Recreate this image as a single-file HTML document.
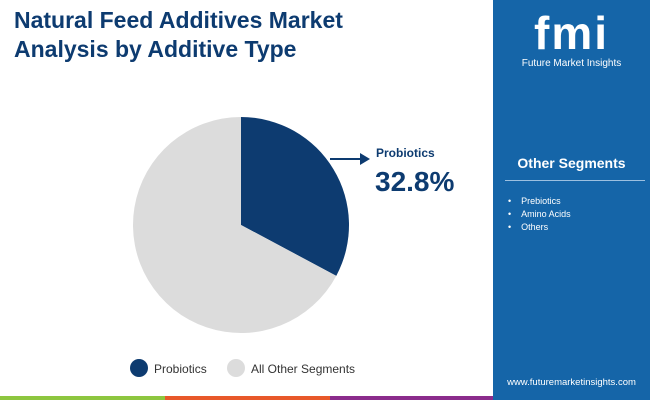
<!DOCTYPE html>
<html><head><meta charset="utf-8"><style>
body{margin:0;width:650px;height:400px;overflow:hidden;background:#fff;font-family:"Liberation Sans",sans-serif;position:relative}
.abs{position:absolute}
</style></head><body>
<div class="abs" style="left:14px;top:6px;font-size:23px;font-weight:bold;color:#0d3b70;line-height:29px">Natural Feed Additives Market<br>Analysis by Additive Type</div>
<div class="abs" style="left:493px;top:0;width:157px;height:400px;background:#1565a8">
  <div class="abs" style="left:0;top:8px;width:157px;text-align:center;color:#fff;font-size:46px;font-weight:bold;letter-spacing:2px;line-height:50px">fmi</div>
  <div class="abs" style="left:0;top:58px;width:157px;text-align:center;color:#fff;font-size:10px">Future Market Insights</div>
  <div class="abs" style="left:0;top:155px;width:157px;text-align:center;color:#fff;font-size:14px;font-weight:bold">Other Segments</div>
  <div class="abs" style="left:12px;top:180px;width:140px;height:1px;background:#9cc0e0"></div>
  <div class="abs" style="left:15px;top:195px;color:#fff;font-size:9px;line-height:13px">•&nbsp;&nbsp;&nbsp;&nbsp;Prebiotics<br>•&nbsp;&nbsp;&nbsp;&nbsp;Amino Acids<br>•&nbsp;&nbsp;&nbsp;&nbsp;Others</div>
  <div class="abs" style="left:0;top:377px;width:157px;text-align:center;color:#fff;font-size:9.5px">www.futuremarketinsights.com</div>
</div>
<div class="abs" style="left:0;top:396px;width:165px;height:4px;background:#8dc63f"></div>
<div class="abs" style="left:165px;top:396px;width:165px;height:4px;background:#e8582a"></div>
<div class="abs" style="left:330px;top:396px;width:163px;height:4px;background:#8b2c8c"></div>
<svg class="abs" style="left:0;top:0" width="493" height="400">
<g id="pie"></g>
<line x1="330" y1="159" x2="362" y2="159" stroke="#0d3b70" stroke-width="2"/>
<polygon points="370,159 360,153 360,165" fill="#0d3b70"/>
<text x="376" y="157" font-size="12" font-weight="bold" fill="#0d3b70">Probiotics</text>
<text x="375" y="191" font-size="28" font-weight="bold" fill="#0d3b70">32.8%</text>
<circle cx="139" cy="368" r="9" fill="#0d3b70"/>
<text x="154" y="373" font-size="12" fill="#333">Probiotics</text>
<circle cx="236" cy="368" r="9" fill="#dcdcdc"/>
<text x="251" y="373" font-size="12" fill="#333">All Other Segments</text>
</svg>
<script>
const categories=["Probiotics","All Other Segments"];
const values=[32.8,67.2];
const colors=["#0d3b70","#dcdcdc"];
const cx=241,cy=225,r=108;
const g=document.getElementById('pie');
const total=values.reduce((a,b)=>a+b,0);
let a0=-Math.PI/2;
values.forEach((v,i)=>{
  const a1=a0+v/total*2*Math.PI;
  const large=(a1-a0)>Math.PI?1:0;
  const p=document.createElementNS('http://www.w3.org/2000/svg','path');
  p.setAttribute('d',`M${cx},${cy}L${cx+r*Math.cos(a0)},${cy+r*Math.sin(a0)}A${r},${r} 0 ${large} 1 ${cx+r*Math.cos(a1)},${cy+r*Math.sin(a1)}Z`);
  p.setAttribute('fill',colors[i]);
  
  
  g.appendChild(p);
  a0=a1;
});
</script>
</body></html>
